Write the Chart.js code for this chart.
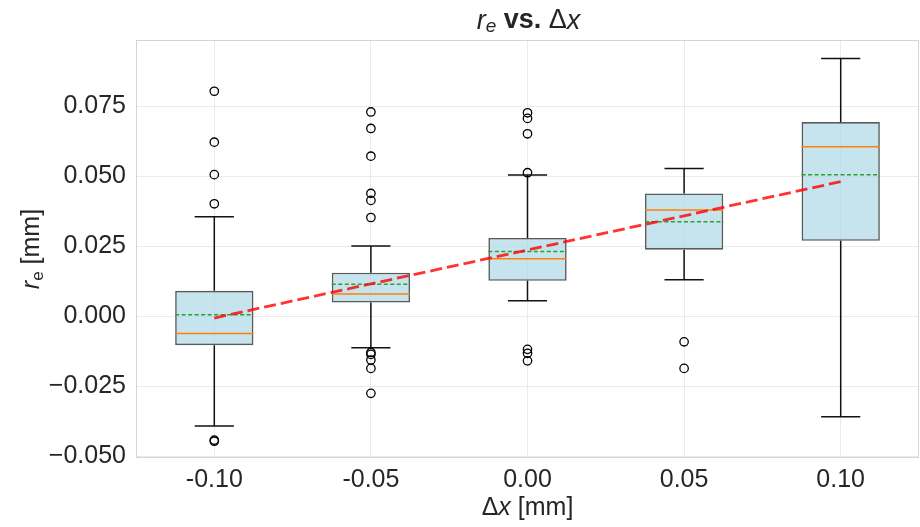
<!DOCTYPE html>
<html>
<head>
<meta charset="utf-8">
<script src="https://cdn.jsdelivr.net/npm/chart.js@4.4.0/dist/chart.umd.min.js"></script>
<style>
  html, body { margin: 0; padding: 0; background: #fff; }
</style>
</head>
<body>
<canvas id="grafico-box" width="920" height="527"></canvas>
<script>
// dati (r_e in mm per ogni spostamento dx)
var categorie = ['-0.10', '-0.05', '0.00', '0.05', '0.10'];
var q1 = [-0.0104, 0.0048, 0.0126, 0.0237, 0.0269];
var q3 = [0.0090, 0.0155, 0.0279, 0.0438, 0.0693];
var mediane = [-0.0062, 0.0079, 0.0205, 0.0379, 0.0605];
var medie = [0.0005, 0.0114, 0.0231, 0.0337, 0.0505];
var baffiMin = [-0.0393, -0.0113, 0.0055, 0.0130, -0.0360];
var baffiMax = [0.0355, 0.0250, 0.0504, 0.0527, 0.0920];
var outliers = [
    [0.0803, 0.0621, 0.0505, 0.0401, -0.0443, -0.0447],
    [0.0729, 0.0670, 0.0571, 0.0438, 0.0413, 0.0352, -0.0130, -0.0137, -0.0157, -0.0187, -0.0276],
    [0.0726, 0.0706, 0.0651, 0.0512, -0.0119, -0.0133, -0.0160],
    [-0.0092, -0.0187],
    []
];
var retta = [-0.0007, 0.0115, 0.0236, 0.0358, 0.0480];
var tickY = [-0.05, -0.025, 0, 0.025, 0.05, 0.075];

var testo = '#262626';
var font = 'Liberation Sans, Arial, sans-serif';

// trasformo coppie di punti in segmenti separati da un buco
function segmenti(lista) {
    var out = [];
    lista.forEach(function(s) {
        out.push({x: s[0], y: s[1]});
        out.push({x: s[2], y: s[3]});
        out.push({x: s[2], y: null});
    });
    return out;
}

var baffi = [], cappe = [], lineeMediana = [], lineeMedia = [], puntiOut = [], puntiRetta = [];
for (var i = 0; i < categorie.length; i++) {
    baffi.push([i, baffiMin[i], i, q1[i]]);
    baffi.push([i, q3[i], i, baffiMax[i]]);
    cappe.push([i - 0.125, baffiMin[i], i + 0.125, baffiMin[i]]);
    cappe.push([i - 0.125, baffiMax[i], i + 0.125, baffiMax[i]]);
    lineeMediana.push([i - 0.25, mediane[i], i + 0.25, mediane[i]]);
    lineeMedia.push([i - 0.25, medie[i], i + 0.25, medie[i]]);
    outliers[i].forEach(function(v) { puntiOut.push({x: i, y: v}); });
    puntiRetta.push({x: i, y: retta[i]});
}

function linea(dati, colore, spessore, tratteggio, ordine) {
    return {
        type: 'line',
        xAxisID: 'x2',
        data: dati,
        borderColor: colore,
        borderWidth: spessore,
        borderDash: tratteggio,
        pointRadius: 0,
        fill: false,
        tension: 0,
        order: ordine
    };
}

// testo con pezzi in stili diversi (corsivo, pedice, grassetto)
function scriviMisto(ctx, pezzi, cx, cy, angolo) {
    ctx.save();
    ctx.translate(cx, cy);
    ctx.rotate(angolo);
    ctx.fillStyle = testo;
    ctx.textBaseline = 'middle';
    ctx.textAlign = 'left';
    var tot = 0;
    pezzi.forEach(function(p) { ctx.font = p.font; p.w = ctx.measureText(p.t).width; tot += p.w; });
    var x = -tot / 2;
    pezzi.forEach(function(p) { ctx.font = p.font; ctx.fillText(p.t, x, p.dy || 0); x += p.w; });
    ctx.restore();
}

var cornice = {
    id: 'cornice',
    beforeDatasetsDraw: function(chart) {
        var ctx = chart.ctx, a = chart.chartArea;
        ctx.save();
        ctx.strokeStyle = '#d4d4d4';
        ctx.lineWidth = 1;
        ctx.strokeRect(a.left + 0.5, a.top + 0.5, a.right - a.left - 1, a.bottom - a.top - 1);
        ctx.restore();
    },
    afterDraw: function(chart) {
        var ctx = chart.ctx, a = chart.chartArea;
        var cx = (a.left + a.right) / 2;
        scriviMisto(ctx, [
            {t: 'r', font: 'italic 27px ' + font},
            {t: 'e', font: 'italic 19px ' + font, dy: 6},
            {t: ' vs. ', font: 'bold 27px ' + font},
            {t: '\u0394', font: '27px ' + font},
            {t: 'x', font: 'italic 27px ' + font}
        ], cx + 1, 21, 0);
        scriviMisto(ctx, [
            {t: '\u0394', font: '25px ' + font},
            {t: 'x', font: 'italic 25px ' + font},
            {t: ' [mm]', font: '25px ' + font}
        ], cx, 508, 0);
        scriviMisto(ctx, [
            {t: 'r', font: 'italic 25px ' + font},
            {t: 'e', font: '17px ' + font, dy: 6},
            {t: ' [mm]', font: '25px ' + font}
        ], 32, (a.top + a.bottom) / 2, -Math.PI / 2);
    }
};

var ctx = document.getElementById('grafico-box');
var chart = new Chart(ctx, {
    type: 'bar',
    data: {
        labels: categorie,
        datasets: [
            {
                type: 'bar',
                data: q1.map(function(v, k) { return [v, q3[k]]; }),
                backgroundColor: 'rgba(173, 216, 230, 0.7)',
                borderColor: '#5a5a5a',
                borderWidth: 1.6,
                borderSkipped: false,
                barPercentage: 0.5,
                categoryPercentage: 1,
                grouped: false,
                order: 10
            },
            linea(segmenti(baffi), '#111111', 1.5, [], 9),
            linea(segmenti(cappe), '#111111', 1.5, [], 8),
            linea(segmenti(lineeMediana), '#ff7f0e', 1.5, [], 6),
            linea(segmenti(lineeMedia), '#2ca02c', 1.5, [4, 2.5], 5),
            linea(puntiRetta, 'rgba(255, 0, 0, 0.8)', 2.8, [12, 5], 3),
            {
                type: 'scatter',
                xAxisID: 'x2',
                data: puntiOut,
                pointStyle: 'circle',
                pointRadius: 4.2,
                pointBorderWidth: 1.3,
                borderColor: '#000000',
                backgroundColor: 'rgba(0, 0, 0, 0)',
                showLine: false,
                order: 1
            }
        ]
    },
    options: {
        responsive: false,
        animation: false,
        layout: { autoPadding: false, padding: { top: 40, right: 1, left: 0, bottom: 0 } },
        plugins: {
            legend: { display: false },
            title: { display: false },
            tooltip: { enabled: false }
        },
        scales: {
            x: {
                type: 'category',
                offset: true,
                grid: { offset: false, color: '#ebebeb', drawTicks: false },
                border: { display: false },
                ticks: { color: testo, padding: 7, font: { size: 25, family: font } },
                afterFit: function(s) { s.height = 69; s.paddingLeft = 0; s.paddingRight = 0; }
            },
            x2: {
                type: 'linear',
                min: -0.5,
                max: 4.5,
                offset: false,
                display: false
            },
            y: {
                type: 'linear',
                min: -0.0507,
                max: 0.0986,
                grid: { color: '#ebebeb', drawTicks: false },
                border: { display: false },
                afterBuildTicks: function(s) { s.ticks = tickY.map(function(v) { return {value: v}; }); },
                ticks: {
                    color: testo,
                    padding: 10,
                    font: { size: 25, family: font },
                    callback: function(v) {
                        var r = Math.round(v * 1000);
                        return (r < 0 ? '\u2212' : '') + Math.abs(v).toFixed(3);
                    }
                },
                afterFit: function(s) { s.width = 136; s.paddingTop = 0; s.paddingBottom = 0; }
            }
        }
    },
    plugins: [cornice]
});
</script>
</body>
</html>
